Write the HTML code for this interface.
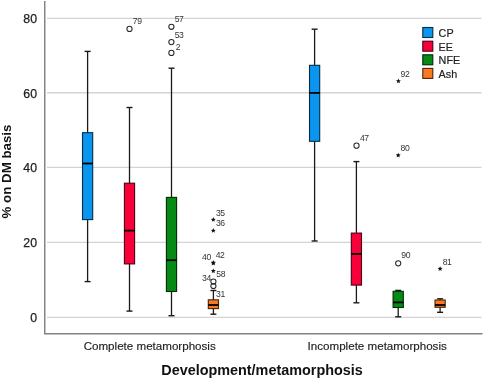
<!DOCTYPE html>
<html><head><meta charset="utf-8"><style>
html,body{margin:0;padding:0;background:#fff;width:485px;height:380px;overflow:hidden}
svg{display:block;will-change:transform}
text{font-family:"Liberation Sans",sans-serif;fill:#222}
.t{font-size:12.3px;stroke:#222;stroke-width:0.25px}
.o{font-size:8.6px;fill:#333;letter-spacing:-0.4px}
.l{font-size:10.8px;stroke:#222;stroke-width:0.2px}
.c{font-size:11.6px;stroke:#222;stroke-width:0.15px}
.x{font-size:13px;font-weight:bold;fill:#111}
</style></head><body>
<svg width="485" height="380" viewBox="0 0 485 380">
<rect width="485" height="380" fill="#fff"/>
<line x1="47" y1="317.40" x2="481.5" y2="317.40" stroke="#d4d4d4" stroke-width="1.3"/>
<line x1="47" y1="242.45" x2="481.5" y2="242.45" stroke="#d4d4d4" stroke-width="1.3"/>
<line x1="47" y1="167.40" x2="481.5" y2="167.40" stroke="#d4d4d4" stroke-width="1.3"/>
<line x1="47" y1="92.75" x2="481.5" y2="92.75" stroke="#d4d4d4" stroke-width="1.3"/>
<line x1="47" y1="18.30" x2="481.5" y2="18.30" stroke="#d4d4d4" stroke-width="1.3"/>
<path d="M44.75 1 V333.7 H482.5" fill="none" stroke="#828282" stroke-width="1.45"/>
<text x="37" y="322.40" text-anchor="end" class="t">0</text>
<text x="37" y="247.45" text-anchor="end" class="t">20</text>
<text x="37" y="172.40" text-anchor="end" class="t">40</text>
<text x="37" y="97.75" text-anchor="end" class="t">60</text>
<text x="37" y="23.30" text-anchor="end" class="t">80</text>
<line x1="87.6" y1="51.4" x2="87.6" y2="281.6" stroke="#1a1a1a" stroke-width="1.3"/>
<line x1="84.6" y1="51.4" x2="90.6" y2="51.4" stroke="#1a1a1a" stroke-width="1.4"/>
<line x1="84.6" y1="281.6" x2="90.6" y2="281.6" stroke="#1a1a1a" stroke-width="1.4"/>
<rect x="82.50" y="132.7" width="10.20" height="86.90" fill="#0a96ee" stroke="#032d47" stroke-width="1.1"/>
<line x1="82.50" y1="163.5" x2="92.70" y2="163.5" stroke="#000" stroke-width="1.8"/>
<line x1="129.5" y1="107.5" x2="129.5" y2="311.1" stroke="#1a1a1a" stroke-width="1.3"/>
<line x1="126.5" y1="107.5" x2="132.5" y2="107.5" stroke="#1a1a1a" stroke-width="1.4"/>
<line x1="126.5" y1="311.1" x2="132.5" y2="311.1" stroke="#1a1a1a" stroke-width="1.4"/>
<rect x="124.40" y="183.2" width="10.20" height="80.70" fill="#f8003a" stroke="#4a0011" stroke-width="1.1"/>
<line x1="124.40" y1="230.6" x2="134.60" y2="230.6" stroke="#000" stroke-width="1.8"/>
<line x1="171.5" y1="68.2" x2="171.5" y2="315.7" stroke="#1a1a1a" stroke-width="1.3"/>
<line x1="168.5" y1="68.2" x2="174.5" y2="68.2" stroke="#1a1a1a" stroke-width="1.4"/>
<line x1="168.5" y1="315.7" x2="174.5" y2="315.7" stroke="#1a1a1a" stroke-width="1.4"/>
<rect x="166.40" y="197.4" width="10.20" height="94.10" fill="#058a16" stroke="#012906" stroke-width="1.1"/>
<line x1="166.40" y1="260.2" x2="176.60" y2="260.2" stroke="#000" stroke-width="1.8"/>
<line x1="213.4" y1="290.5" x2="213.4" y2="314.2" stroke="#1a1a1a" stroke-width="1.3"/>
<line x1="210.4" y1="290.5" x2="216.4" y2="290.5" stroke="#1a1a1a" stroke-width="1.4"/>
<line x1="210.4" y1="314.2" x2="216.4" y2="314.2" stroke="#1a1a1a" stroke-width="1.4"/>
<rect x="208.30" y="299.8" width="10.20" height="8.80" fill="#fa7820" stroke="#4b2409" stroke-width="1.1"/>
<line x1="208.30" y1="305.0" x2="218.50" y2="305.0" stroke="#000" stroke-width="1.8"/>
<line x1="314.6" y1="29.2" x2="314.6" y2="241.0" stroke="#1a1a1a" stroke-width="1.3"/>
<line x1="311.6" y1="29.2" x2="317.6" y2="29.2" stroke="#1a1a1a" stroke-width="1.4"/>
<line x1="311.6" y1="241.0" x2="317.6" y2="241.0" stroke="#1a1a1a" stroke-width="1.4"/>
<rect x="309.50" y="65.3" width="10.20" height="76.00" fill="#0a96ee" stroke="#032d47" stroke-width="1.1"/>
<line x1="309.50" y1="92.9" x2="319.70" y2="92.9" stroke="#000" stroke-width="1.8"/>
<line x1="356.4" y1="161.6" x2="356.4" y2="302.8" stroke="#1a1a1a" stroke-width="1.3"/>
<line x1="353.4" y1="161.6" x2="359.4" y2="161.6" stroke="#1a1a1a" stroke-width="1.4"/>
<line x1="353.4" y1="302.8" x2="359.4" y2="302.8" stroke="#1a1a1a" stroke-width="1.4"/>
<rect x="351.30" y="233.1" width="10.20" height="52.00" fill="#f8003a" stroke="#4a0011" stroke-width="1.1"/>
<line x1="351.30" y1="253.9" x2="361.50" y2="253.9" stroke="#000" stroke-width="1.8"/>
<line x1="398.2" y1="290.4" x2="398.2" y2="316.8" stroke="#1a1a1a" stroke-width="1.3"/>
<line x1="395.2" y1="290.4" x2="401.2" y2="290.4" stroke="#1a1a1a" stroke-width="1.4"/>
<line x1="395.2" y1="316.8" x2="401.2" y2="316.8" stroke="#1a1a1a" stroke-width="1.4"/>
<rect x="393.10" y="291.3" width="10.20" height="16.20" fill="#058a16" stroke="#012906" stroke-width="1.1"/>
<line x1="393.10" y1="302.4" x2="403.30" y2="302.4" stroke="#000" stroke-width="1.8"/>
<line x1="440.1" y1="298.8" x2="440.1" y2="312.3" stroke="#1a1a1a" stroke-width="1.3"/>
<line x1="437.1" y1="298.8" x2="443.1" y2="298.8" stroke="#1a1a1a" stroke-width="1.4"/>
<line x1="437.1" y1="312.3" x2="443.1" y2="312.3" stroke="#1a1a1a" stroke-width="1.4"/>
<rect x="435.00" y="300.0" width="10.20" height="7.30" fill="#fa7820" stroke="#4b2409" stroke-width="1.1"/>
<line x1="435.00" y1="305.0" x2="445.20" y2="305.0" stroke="#000" stroke-width="1.8"/>
<circle cx="129.5" cy="28.9" r="2.6" fill="none" stroke="#2a2a2a" stroke-width="1.05"/>
<circle cx="171.4" cy="26.8" r="2.6" fill="none" stroke="#2a2a2a" stroke-width="1.05"/>
<circle cx="171.4" cy="42.1" r="2.6" fill="none" stroke="#2a2a2a" stroke-width="1.05"/>
<circle cx="171.4" cy="52.9" r="2.6" fill="none" stroke="#2a2a2a" stroke-width="1.05"/>
<circle cx="213.4" cy="281.5" r="2.6" fill="none" stroke="#2a2a2a" stroke-width="1.05"/>
<circle cx="213.4" cy="286.0" r="2.6" fill="none" stroke="#2a2a2a" stroke-width="1.05"/>
<circle cx="356.5" cy="145.7" r="2.6" fill="none" stroke="#2a2a2a" stroke-width="1.05"/>
<circle cx="398.2" cy="263.3" r="2.6" fill="none" stroke="#2a2a2a" stroke-width="1.05"/>
<polygon points="213.30,260.00 213.99,261.65 215.77,261.80 214.41,262.96 214.83,264.70 213.30,263.77 211.77,264.70 212.19,262.96 210.83,261.80 212.61,261.65" fill="#111"/>
<polygon points="213.30,217.10 213.99,218.75 215.77,218.90 214.41,220.06 214.83,221.80 213.30,220.87 211.77,221.80 212.19,220.06 210.83,218.90 212.61,218.75" fill="#111"/>
<polygon points="213.30,228.10 213.99,229.75 215.77,229.90 214.41,231.06 214.83,232.80 213.30,231.87 211.77,232.80 212.19,231.06 210.83,229.90 212.61,229.75" fill="#111"/>
<polygon points="213.30,260.80 213.99,262.45 215.77,262.60 214.41,263.76 214.83,265.50 213.30,264.57 211.77,265.50 212.19,263.76 210.83,262.60 212.61,262.45" fill="#111"/>
<polygon points="213.30,268.40 213.99,270.05 215.77,270.20 214.41,271.36 214.83,273.10 213.30,272.17 211.77,273.10 212.19,271.36 210.83,270.20 212.61,270.05" fill="#111"/>
<polygon points="398.40,78.50 399.09,80.15 400.87,80.30 399.51,81.46 399.93,83.20 398.40,82.27 396.87,83.20 397.29,81.46 395.93,80.30 397.71,80.15" fill="#111"/>
<polygon points="398.20,152.70 398.89,154.35 400.67,154.50 399.31,155.66 399.73,157.40 398.20,156.47 396.67,157.40 397.09,155.66 395.73,154.50 397.51,154.35" fill="#111"/>
<polygon points="440.10,266.20 440.79,267.85 442.57,268.00 441.21,269.16 441.63,270.90 440.10,269.97 438.57,270.90 438.99,269.16 437.63,268.00 439.41,267.85" fill="#111"/>
<text x="132.8" y="24.0" class="o">79</text>
<text x="174.7" y="21.8" class="o">57</text>
<text x="174.7" y="37.7" class="o">53</text>
<text x="175.7" y="49.6" class="o">2</text>
<text x="215.9" y="215.8" class="o">35</text>
<text x="215.9" y="225.9" class="o">36</text>
<text x="202.1" y="259.5" class="o">40</text>
<text x="215.7" y="258.2" class="o">42</text>
<text x="216.3" y="277.2" class="o">58</text>
<text x="202.1" y="281.2" class="o">34</text>
<text x="216.0" y="296.8" class="o">31</text>
<text x="359.9" y="141.0" class="o">47</text>
<text x="400.6" y="76.8" class="o">92</text>
<text x="400.6" y="150.5" class="o">80</text>
<text x="401.3" y="258.3" class="o">90</text>
<text x="442.7" y="264.9" class="o">81</text>
<rect x="422.8" y="27.5" width="10" height="10" fill="#0a96ee" stroke="#032d47" stroke-width="1.1"/>
<text x="438.6" y="36.90" class="l">CP</text>
<rect x="422.8" y="41.2" width="10" height="10" fill="#f8003a" stroke="#4a0011" stroke-width="1.1"/>
<text x="438.6" y="50.60" class="l">EE</text>
<rect x="422.8" y="54.8" width="10" height="10" fill="#058a16" stroke="#012906" stroke-width="1.1"/>
<text x="438.6" y="64.20" class="l">NFE</text>
<rect x="422.8" y="68.4" width="10" height="10" fill="#fa7820" stroke="#4b2409" stroke-width="1.1"/>
<text x="438.6" y="77.80" class="l">Ash</text>
<text x="149.7" y="349.6" text-anchor="middle" class="c">Complete metamorphosis</text>
<text x="377.2" y="349.6" text-anchor="middle" class="c">Incomplete metamorphosis</text>
<text x="262" y="375" text-anchor="middle" class="x" style="font-size:14.4px">Development/metamorphosis</text>
<text transform="translate(10.6,171.5) rotate(-90)" text-anchor="middle" class="x" style="font-size:13.3px">% on DM basis</text>
</svg>
</body></html>
